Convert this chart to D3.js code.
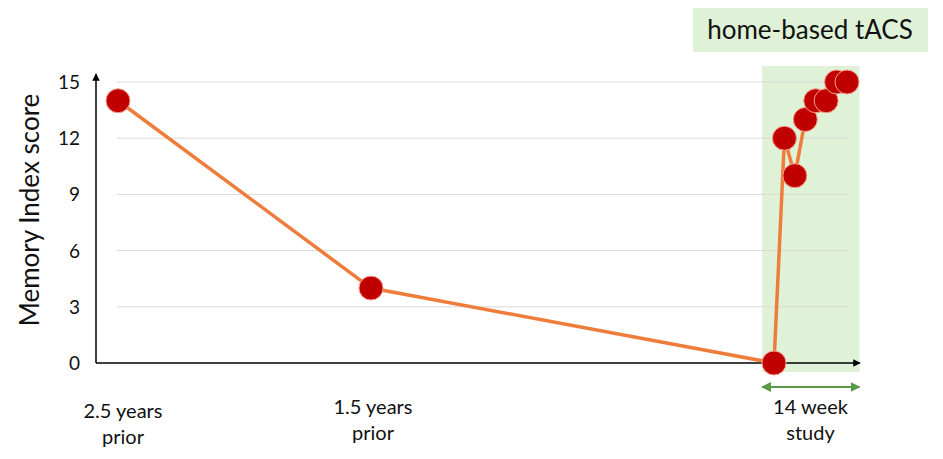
<!DOCTYPE html>
<html><head><meta charset="utf-8">
<script src="https://cdn.jsdelivr.net/npm/d3@7"></script>
<style>body{margin:0;background:#fff;}text{font-family:Lato,"Open Sans",sans-serif;}</style>
</head><body><svg id="c" width="943" height="459"></svg>
<script>
// timeline in weeks relative to study start
const weeks = [-130, -78, 0, 2, 4, 6, 8, 10, 12, 14];
const scores = [14, 4, 0, 12, 10, 13, 14, 14, 15, 15];
const yTicks = [0, 3, 6, 9, 12, 15];
const xLabels = [
  {w: -130, lines: ["2.5 years", "prior"]},
  {w: -78, lines: ["1.5 years", "prior"]},
  {w: 7, lines: ["14 week", "study"]}
];
const bannerText = "home-based tACS";
const yTitle = "Memory Index score";

const svg = d3.select("#c");
const x = d3.scaleLinear().domain([-130, -78, 0, 14]).range([118, 371, 774, 847]);
const y = d3.scaleLinear().domain([0, 15]).range([363, 82]);
const axisX0 = 96, axisXEnd = 860;

// shaded study region
svg.append("rect").attr("x", x(-2.3)).attr("y", 66).attr("width", x(16.4) - x(-2.3)).attr("height", 306)
  .attr("fill", "#dff2d8");
// banner
svg.append("rect").attr("x", 693).attr("y", 8).attr("width", 235).attr("height", 44).attr("fill", "#dff2d8");
svg.append("text").attr("x", 810).attr("y", 39).attr("text-anchor", "middle").attr("font-size", 26).attr("fill", "#111").text(bannerText);

// gridlines
svg.append("g").selectAll("line").data(yTicks.filter(d => d > 0)).join("line")
  .attr("x1", 117).attr("x2", 850).attr("y1", d => y(d)).attr("y2", d => y(d))
  .attr("stroke", "#d9d9d9").attr("stroke-width", 1);

// y axis tick labels
svg.append("g").selectAll("text").data(yTicks).join("text")
  .attr("x", 80).attr("y", d => y(d) + 7).attr("text-anchor", "end").attr("font-size", 19).attr("fill", "#111").text(d => d);

// axes lines with arrows
const defs = svg.append("defs");
defs.append("marker").attr("id", "arr").attr("viewBox", "0 0 10 10").attr("refX", 9).attr("refY", 5)
  .attr("markerWidth", 5).attr("markerHeight", 5).attr("orient", "auto")
  .append("path").attr("d", "M0,0L10,5L0,10z").attr("fill", "#000");
defs.append("marker").attr("id", "garr").attr("viewBox", "0 0 10 10").attr("refX", 9).attr("refY", 5)
  .attr("markerWidth", 5).attr("markerHeight", 5).attr("orient", "auto-start-reverse")
  .append("path").attr("d", "M0,0L10,5L0,10z").attr("fill", "#5b9a45");
svg.append("line").attr("x1", axisX0).attr("y1", y(0)).attr("x2", axisX0).attr("y2", 74)
  .attr("stroke", "#000").attr("stroke-width", 1.5).attr("marker-end", "url(#arr)");
svg.append("line").attr("x1", axisX0).attr("y1", y(0)).attr("x2", axisXEnd).attr("y2", y(0))
  .attr("stroke", "#000").attr("stroke-width", 1.5).attr("marker-end", "url(#arr)");

// green double arrow
svg.append("line").attr("x1", x(-2.3)).attr("x2", x(16.4)).attr("y1", 387).attr("y2", 387)
  .attr("stroke", "#5b9a45").attr("stroke-width", 2).attr("marker-start", "url(#garr)").attr("marker-end", "url(#garr)");

// y title
svg.append("text").attr("transform", "translate(39,210) rotate(-90)").attr("text-anchor", "middle")
  .attr("font-size", 26).attr("fill", "#111").text(yTitle);

// x labels
const xl = svg.append("g").selectAll("text").data(xLabels).join("text")
  .attr("text-anchor", "middle").attr("font-size", 20).attr("fill", "#111")
  .attr("y", (d, i) => i === 0 ? 418 : 414);
xl.selectAll("tspan").data(d => d.lines.map(l => ({l, w: d.w}))).join("tspan")
  .attr("x", d => x(d.w) + (d.w === -130 ? 5 : (d.w === -78 ? 2 : 0))).attr("dy", (d, i) => i ? 26 : 0).text(d => d.l);

// line
const pts = weeks.map((w, i) => [w, scores[i]]);
svg.append("path").datum(pts).attr("fill", "none").attr("stroke", "#ee7d3c").attr("stroke-width", 3.5)
  .attr("d", d3.line().x(d => x(d[0])).y(d => y(d[1])));
svg.append("g").selectAll("circle").data(pts).join("circle")
  .attr("cx", d => x(d[0])).attr("cy", d => y(d[1])).attr("r", 12)
  .attr("fill", "#c00000").attr("stroke", "#f4a08a").attr("stroke-width", 1);
</script></body></html>
